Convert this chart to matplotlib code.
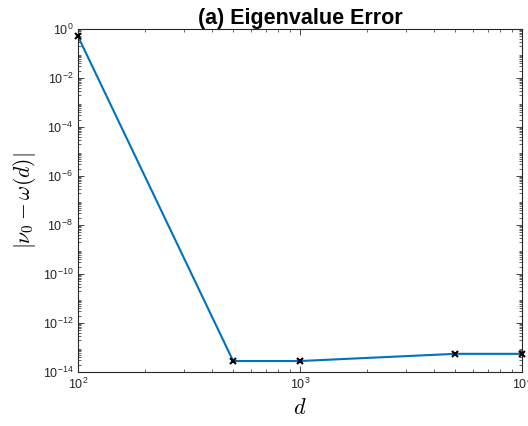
import matplotlib
matplotlib.use("Agg")
import matplotlib.pyplot as plt
from matplotlib.ticker import LogLocator, NullFormatter

plt.rcParams['font.family'] = ['Liberation Sans', 'DejaVu Sans']
plt.rcParams['mathtext.fontset'] = 'cm'

# data
d = [1e2, 5e2, 1e3, 5e3, 1e4]
err = [5.0e-1, 2.8e-14, 2.8e-14, 5.5e-14, 5.5e-14]

fig = plt.figure(figsize=(5.28, 4.26), dpi=100)
ax = fig.add_axes([0.1477, 0.1268, 0.8409, 0.8052])

ax.loglog(d, err, color="#0072BD", lw=1.5, zorder=2)
ax.plot(d, err, ls="none", marker="x", color="black", ms=5, mew=1.5, zorder=3, clip_on=False)

ax.set_xlim(1e2, 1e4)
ax.set_ylim(1e-14, 1e0)
ax.set_yticks([10.0**k for k in range(-14, 1, 2)])
ax.yaxis.set_minor_locator(LogLocator(base=10, subs=range(2, 10), numticks=100))
ax.yaxis.set_minor_formatter(NullFormatter())
ax.xaxis.set_minor_locator(LogLocator(base=10, subs=range(2, 10), numticks=100))
ax.xaxis.set_minor_formatter(NullFormatter())

ax.tick_params(which="both", direction="in", top=True, right=True, labelsize=9, colors="#262626")
ax.tick_params(which="major", length=4, width=0.6)
ax.tick_params(which="minor", length=2, width=0.5)
for s in ax.spines.values():
    s.set_linewidth(0.8)
    s.set_color("#262626")

ax.set_xlabel(r"$d$", fontsize=16, labelpad=4)
ax.set_ylabel(r"$|\nu_0-\omega(d)|$", fontsize=15.5, labelpad=3.5)
ax.set_title("(a) Eigenvalue Error", fontsize=15.5, fontweight="bold", pad=2)

fig.savefig("out.png", dpi=100)
